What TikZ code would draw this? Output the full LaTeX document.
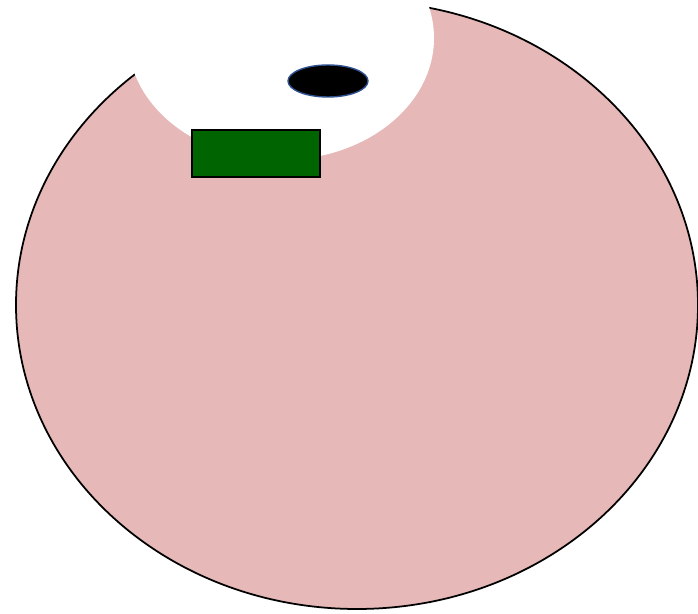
\documentclass[tikz,border=0pt]{standalone}
\usepackage{tikz}
\definecolor{pinkbody}{HTML}{E6B8B7}
\definecolor{holegreen}{HTML}{006400}
\definecolor{rimblue}{HTML}{2F528F}
\tikzset{
  body/.style={draw=black, line width=1pt, fill=pinkbody},
  cutout/.style={fill=white},
  plate/.style={draw=black, line width=1pt, fill=holegreen},
  pupil/.style={draw=rimblue, line width=0.8pt, fill=black}
}
\begin{document}
\begin{tikzpicture}[x=0.02cm, y=-0.02cm]
\useasboundingbox (0,0) rectangle (698,614);
% big pink body
\draw[body] (357,305) ellipse [x radius=341, y radius=304];
% white cut-out at the top
\fill[cutout] (281,38) ellipse [x radius=153, y radius=122];
% green block and black oval
\draw[plate] (192,130) rectangle (320,177);
\draw[pupil] (328,81) ellipse [x radius=40, y radius=16];
\end{tikzpicture}
\end{document}
